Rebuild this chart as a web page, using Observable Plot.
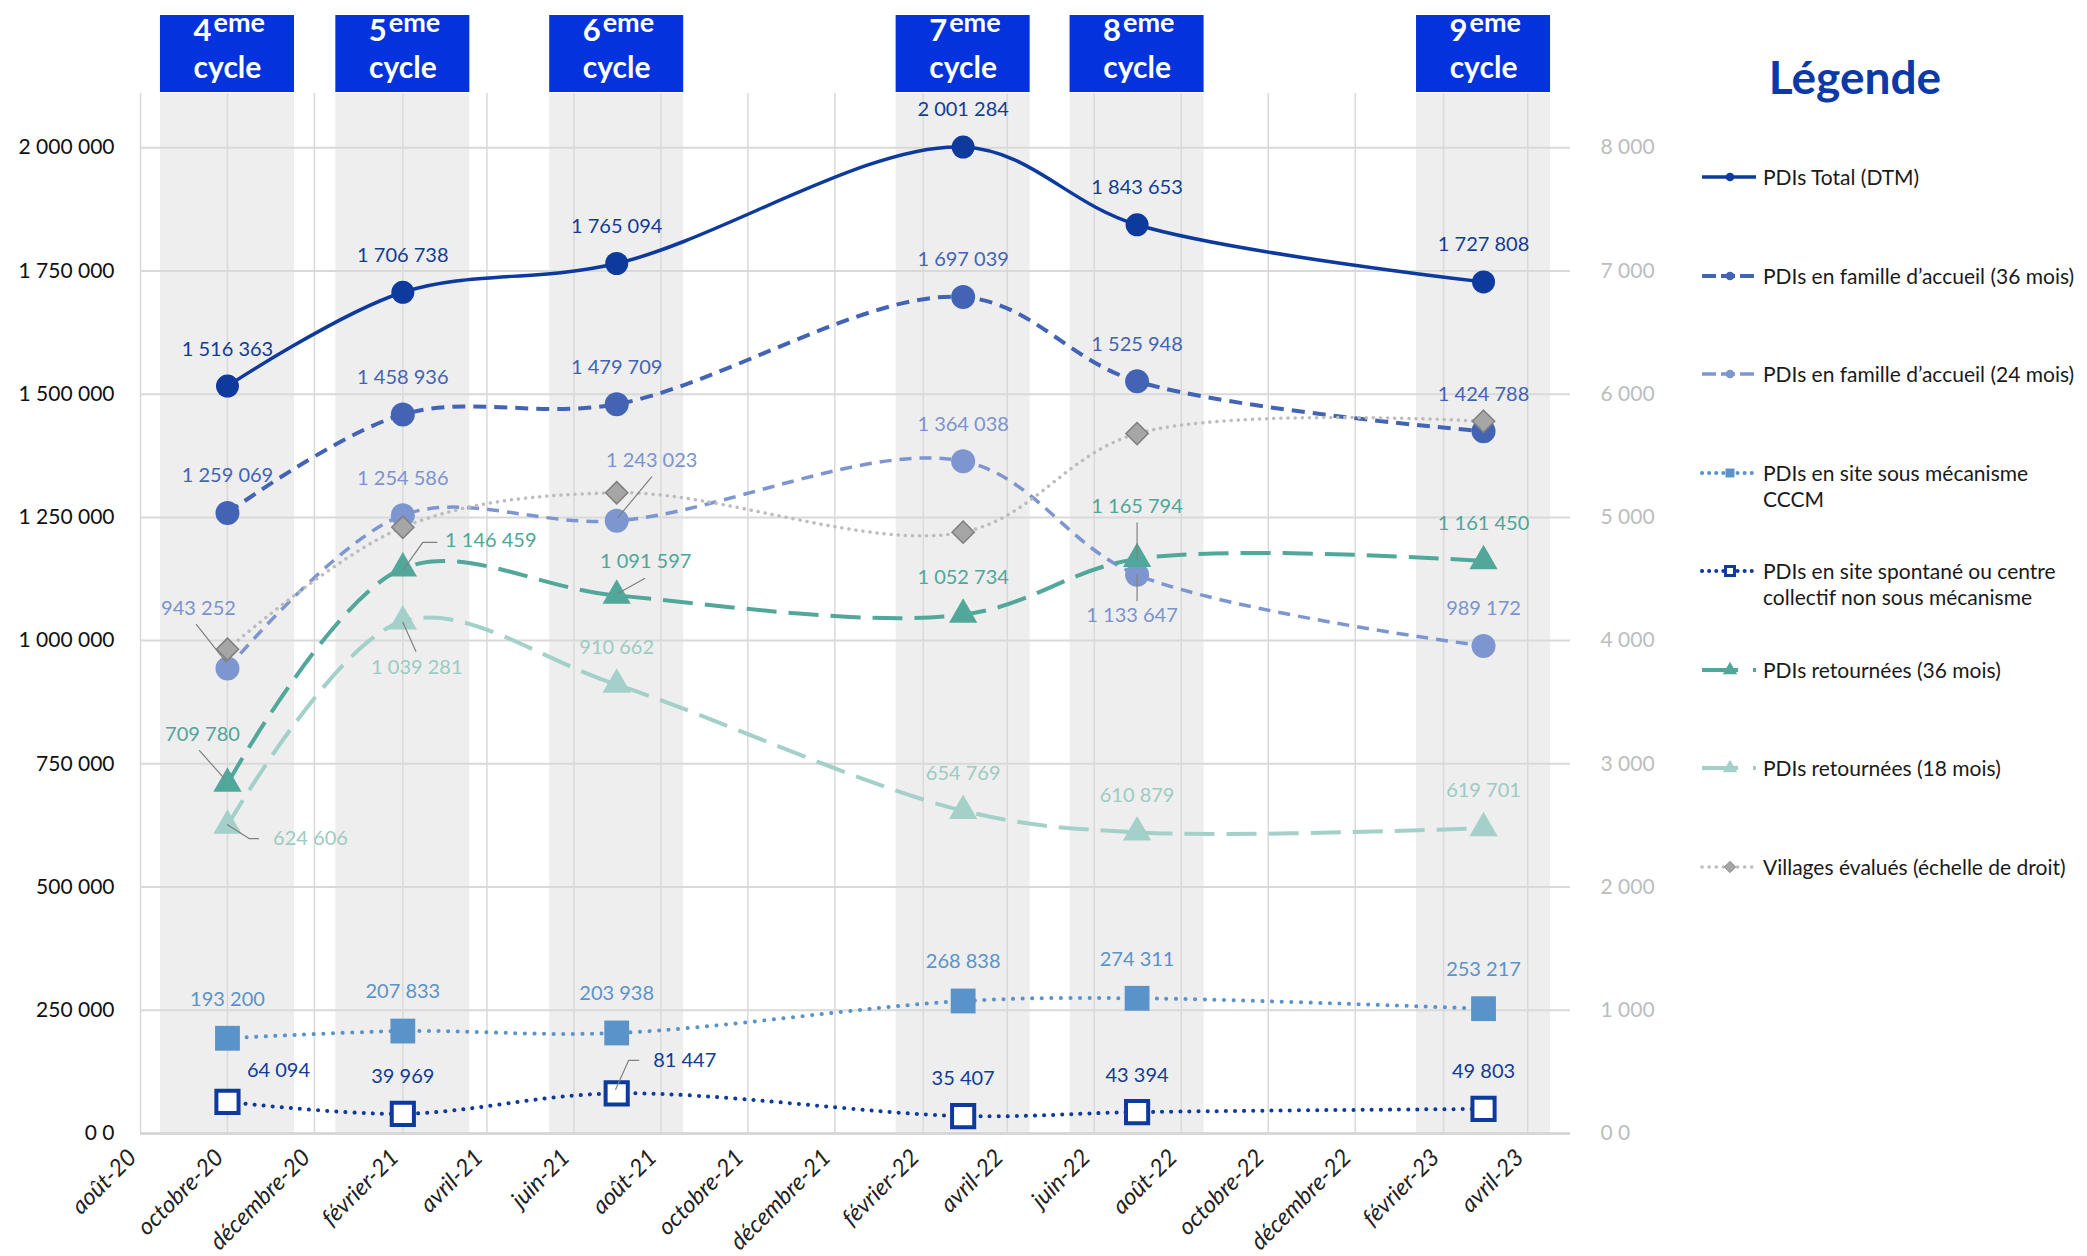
<!DOCTYPE html>
<html><head><meta charset="utf-8">
<script src="https://cdn.jsdelivr.net/npm/d3@7"></script>
<script src="https://cdn.jsdelivr.net/npm/@observablehq/plot@0.6"></script>
<style>
body{margin:0;background:#fff;font-family:Lato,"Open Sans",sans-serif;}
#wrap{position:relative;width:2087px;height:1256px;overflow:hidden;background:#fff;}
#chart{position:absolute;left:0;top:0;}
#chart g[aria-label="x-axis tick label"]{font-style:italic;}
.lg-title{position:absolute;left:1700px;width:310px;top:54px;text-align:center;font-size:46px;line-height:46px;font-weight:700;color:#0b3aa8;}
.lg-item{position:absolute;left:1763px;font-size:21px;line-height:26px;color:#1a1a1a;white-space:pre;}
.lg-sw{position:absolute;left:1698px;}
</style></head>
<body><div id="wrap"><div id="chart"></div><div id="legend"></div></div>
<script>
// ---------------- DATA ----------------
const cycleNumbers = ["4", "5", "6", "7", "8", "9"];
const cycleDates = ["2020-10-01", "2021-02-01", "2021-07-01", "2022-03-01", "2022-07-01", "2023-03-01"];
const pdiTotal      = [1516363, 1706738, 1765094, 2001284, 1843653, 1727808];
const famille36     = [1259069, 1458936, 1479709, 1697039, 1525948, 1424788];
const famille24     = [943252, 1254586, 1243023, 1364038, 1133647, 989172];
const siteCCCM      = [193200, 207833, 203938, 268838, 274311, 253217];
const siteSpontane  = [64094, 39969, 81447, 35407, 43394, 49803];
const retournees36  = [709780, 1146459, 1091597, 1052734, 1165794, 1161450];
const retournees18  = [624606, 1039281, 910662, 654769, 610879, 619701];
const villages      = [3930, 4920, 5200, 4880, 5680, 5780];
const seriesNames = [
  "PDIs Total (DTM)",
  "PDIs en famille d’accueil (36 mois)",
  "PDIs en famille d’accueil (24 mois)",
  "PDIs en site sous mécanisme\nCCCM",
  "PDIs en site spontané ou centre\ncollectif non sous mécanisme",
  "PDIs retournées (36 mois)",
  "PDIs retournées (18 mois)",
  "Villages évalués (échelle de droit)"
];
const xTickDates = ["2020-08-01","2020-10-01","2020-12-01","2021-02-01","2021-04-01","2021-06-01","2021-08-01","2021-10-01","2021-12-01","2022-02-01","2022-04-01","2022-06-01","2022-08-01","2022-10-01","2022-12-01","2023-02-01","2023-04-01"];
const xTickLabels = ["août-20","octobre-20","décembre-20","février-21","avril-21","juin-21","août-21","octobre-21","décembre-21","février-22","avril-22","juin-22","août-22","octobre-22","décembre-22","février-23","avril-23"];
const yTicksLeft = [0, 250000, 500000, 750000, 1000000, 1250000, 1500000, 1750000, 2000000];
const yTicksRight = [0, 1000, 2000, 3000, 4000, 5000, 6000, 7000, 8000];

// ---------------- LAYOUT / STYLE ----------------
const W = 1690, H = 1256, mt = 93, mb = 123, ml = 140, mr = 120;
const xDomain = [new Date("2020-08-01"), new Date("2023-05-01")];
const yMax = 2110000;
const ratio = yTicksLeft[yTicksLeft.length - 1] / yTicksRight[yTicksRight.length - 1];
const bandHalfDays = 47;
const font = "Lato, 'Open Sans', sans-serif";

const styles = [
  {color:"#0d3a9c", label:"#123c96", dash:null, width:3.5, symbol:"circle", r:11.5, fill:"#0d3a9c", stroke:"none", sw:0},
  {color:"#4363b5", label:"#4363b5", dash:"13,8", width:4, symbol:"circle", r:12, fill:"#4363b5", stroke:"none", sw:0},
  {color:"#7e96d0", label:"#7b93cd", dash:"12,8", width:3.5, symbol:"circle", r:12, fill:"#7e96d0", stroke:"none", sw:0},
  {color:"#5a93c9", label:"#5a93c9", dash:"0.1,9.5", width:4, cap:"round", symbol:"square", r:14, fill:"#5a93c9", stroke:"none", sw:0},
  {color:"#0d3a9c", label:"#123c96", dash:"0.1,9", width:4, cap:"round", symbol:"square", r:12.5, fill:"#ffffff", stroke:"#0d3a9c", sw:4},
  {color:"#52a79b", label:"#4fa69a", dash:"30,12", width:4, symbol:"triangle", r:10.5, fill:"#52a79b", stroke:"none", sw:0},
  {color:"#a3d0c8", label:"#9ccbc2", dash:"30,12", width:4, symbol:"triangle", r:10.5, fill:"#a3d0c8", stroke:"none", sw:0},
  {color:"#bdbdbd", label:"#999", dash:"0.1,7", width:3.5, cap:"round", symbol:"diamond2", r:10, fill:"#a6a6a6", stroke:"#7f7f7f", sw:1.5}
];
// label placement (pixel offsets from marker), and leader lines
const defaultDy = [-37, -37, -37, -39, -37, -37, -37, -37];
const labelPlacement = {
  "2-0": {dx:-29, dy:-60, leader:[[-31,-44],[-1,-6]]},
  "2-2": {dx:35, dy:-60, leader:[[35,-44],[1,-3]]},
  "2-4": {dx:-5, dy:41, leader:[[0,26],[0,0]]},
  "4-0": {dx:51, dy:-31},
  "4-2": {dx:68, dy:-33, leader:[[22,-33],[12,-33],[-1,-4]]},
  "5-0": {dx:-25, dy:-49, leader:[[-28,-33],[-3,-5]]},
  "5-1": {dx:88, dy:-28, leader:[[34,-26],[20,-26],[0,2]]},
  "5-2": {dx:29, dy:-34, leader:[[28,-17],[1,-2]]},
  "5-4": {dx:0, dy:-52, leader:[[0,-36],[0,0]]},
  "6-0": {dx:83, dy:13, leader:[[31,13],[22,13],[0,-1]]},
  "6-1": {dx:14, dy:46, leader:[[13,30],[0,1]]}
};

const fmt = d3.formatLocale({thousands:" ", grouping:[3], decimal:","}).format(",d");
const fmtTick = v => v === 0 ? "0 0" : fmt(v);
const tickDateObjs = xTickDates.map(d => new Date(d));
const tickLabelByTime = new Map(tickDateObjs.map((d, i) => [+d, xTickLabels[i]]));

const allSeries = [pdiTotal, famille36, famille24, siteCCCM, siteSpontane, retournees36, retournees18, villages];
const cycles = cycleDates.map((d, i) => ({date: new Date(d), n: cycleNumbers[i],
  x1: d3.utcDay.offset(new Date(d), -bandHalfDays), x2: d3.utcDay.offset(new Date(d), bandHalfDays)}));
const rowsBySeries = allSeries.map((vals, k) => vals.map((v, i) => ({
  k, i, date: new Date(cycleDates[i]), raw: v, value: k === 7 ? v * ratio : v
})));

// standalone scales identical to the plot's, to convert pixel offsets
const xs = Plot.scale({x: {type: "utc", domain: xDomain, range: [ml, W - mr]}});
const ys = Plot.scale({y: {type: "linear", domain: [0, yMax], range: [H - mb, mt]}});

const marks = [];
// cycle bands
marks.push(Plot.rect(cycles, {x1: "x1", x2: "x2", fill: "#eeeeee"}));
// cycle boxes above the frame
marks.push(Plot.rect(cycles, {x1: "x1", x2: "x2", fill: "#0433dd", insetTop: -(mt - 15), insetBottom: (H - mt - mb) + 1}));
marks.push(Plot.text(cycles, {x: "date", text: "n", frameAnchor: "top", lineAnchor: "middle", textAnchor: "end", dx: -16, dy: -62, fill: "white", fontSize: 31, fontWeight: 700, fontFamily: font}));
marks.push(Plot.text(cycles, {x: "date", text: () => "eme", frameAnchor: "top", lineAnchor: "middle", textAnchor: "start", dx: -14, dy: -70, fill: "white", fontSize: 27, fontWeight: 700, fontFamily: font}));
marks.push(Plot.text(cycles, {x: "date", text: () => "cycle", frameAnchor: "top", lineAnchor: "middle", dy: -25, fill: "white", fontSize: 30, fontWeight: 700, fontFamily: font}));
// grid
marks.push(Plot.gridX({ticks: tickDateObjs, stroke: "#d9d9d9", strokeOpacity: 1, strokeWidth: 1.5}));
marks.push(Plot.gridY({ticks: yTicksLeft, stroke: "#d9d9d9", strokeOpacity: 1, strokeWidth: 2}));
marks.push(Plot.ruleY([0], {stroke: "#d4d4d4", strokeWidth: 2.5}));
// axes
marks.push(Plot.axisY({ticks: yTicksLeft, tickFormat: fmtTick, tickSize: 0, tickPadding: 26, fontSize: 21, fill: "#111", label: null}));
marks.push(Plot.axisY({anchor: "right", ticks: yTicksRight.map(v => v * ratio), tickFormat: d => fmtTick(Math.round(d / ratio)), tickSize: 0, tickPadding: 30, fontSize: 21, fill: "#bdbdbd", label: null}));
marks.push(Plot.axisX({ticks: tickDateObjs, tickFormat: d => tickLabelByTime.get(+d), tickRotate: -45, tickSize: 0, tickPadding: 20, dx: -8, fontSize: 23.5, fontStyle: "italic", fill: "#222", label: null}));

// series
rowsBySeries.forEach((rows, k) => {
  const s = styles[k];
  marks.push(Plot.line(rows, {x: "date", y: "value", stroke: s.color, strokeWidth: s.width,
    strokeDasharray: s.dash || undefined, strokeLinecap: s.cap || "butt", curve: "catmull-rom"}));
  marks.push(Plot.dot(rows, {x: "date", y: "value", symbol: s.symbol, r: s.r, fill: s.fill,
    stroke: s.stroke, strokeWidth: s.sw}));
});

// data labels and leader lines
const leaderPts = [];
rowsBySeries.forEach((rows, k) => {
  if (k === 7) return;
  const s = styles[k];
  rows.forEach(row => {
    const p = labelPlacement[`${k}-${row.i}`] || {dx: 0, dy: defaultDy[k]};
    marks.push(Plot.text([row], {x: "date", y: "value", text: d => fmt(d.raw), dx: p.dx, dy: p.dy,
      fill: s.label, fontSize: 20, fontFamily: font}));
    if (p.leader) {
      const px = xs.apply(row.date), py = ys.apply(row.value);
      p.leader.forEach(([ox, oy], j) => leaderPts.push({id: `${k}-${row.i}`, j,
        x: xs.invert(px + ox), y: ys.invert(py + oy)}));
    }
  });
});
marks.push(Plot.line(leaderPts, {x: "x", y: "y", z: "id", stroke: "#808080", strokeWidth: 1.2}));

const chart = Plot.plot({
  width: W, height: H, marginTop: mt, marginBottom: mb, marginLeft: ml, marginRight: mr,
  style: {fontFamily: font, background: "transparent", color: "#111"},
  x: {type: "utc", domain: xDomain, axis: null},
  y: {type: "linear", domain: [0, yMax], axis: null},
  marks
});
document.getElementById("chart").appendChild(chart);

// ---------------- LEGEND ----------------
const legend = document.getElementById("legend");
const title = document.createElement("div");
title.className = "lg-title"; title.textContent = "Légende";
legend.appendChild(title);
const symPath = {circle: d3.symbolCircle, square: d3.symbolSquare, triangle: d3.symbolTriangle, diamond2: d3.symbolDiamond2};
seriesNames.forEach((name, k) => {
  const s = styles[k];
  const cy = 177 + k * 98.5;
  const t = document.createElement("div");
  t.className = "lg-item"; t.style.top = (cy - 13) + "px"; t.textContent = name;
  legend.appendChild(t);
  const sv = d3.create("svg").attr("class", "lg-sw").attr("width", 62).attr("height", 26)
    .style("top", (cy - 13) + "px");
  const isTri = s.symbol === "triangle";
  sv.append("line").attr("x1", 4).attr("x2", isTri ? 40 : 58).attr("y1", 13).attr("y2", 13)
    .attr("stroke", s.color).attr("stroke-width", s.width)
    .attr("stroke-dasharray", isTri ? null : (s.dash ? (s.cap ? "0.1,7" : "14,5") : null))
    .attr("stroke-linecap", s.cap || "butt");
  if (isTri) sv.append("line").attr("x1", 55).attr("x2", 58).attr("y1", 13).attr("y2", 13)
    .attr("stroke", s.color).attr("stroke-width", s.width);
  const size = {circle: 60, square: 80, triangle: 90, diamond2: 80}[s.symbol];
  sv.append("path").attr("d", d3.symbol(symPath[s.symbol], size)()).attr("transform", "translate(32,13)")
    .attr("fill", s.fill).attr("stroke", s.stroke === "none" ? null : s.stroke)
    .attr("stroke-width", s.symbol === "square" && s.sw ? 3 : 1);
  legend.appendChild(sv.node());
});
</script></body></html>
